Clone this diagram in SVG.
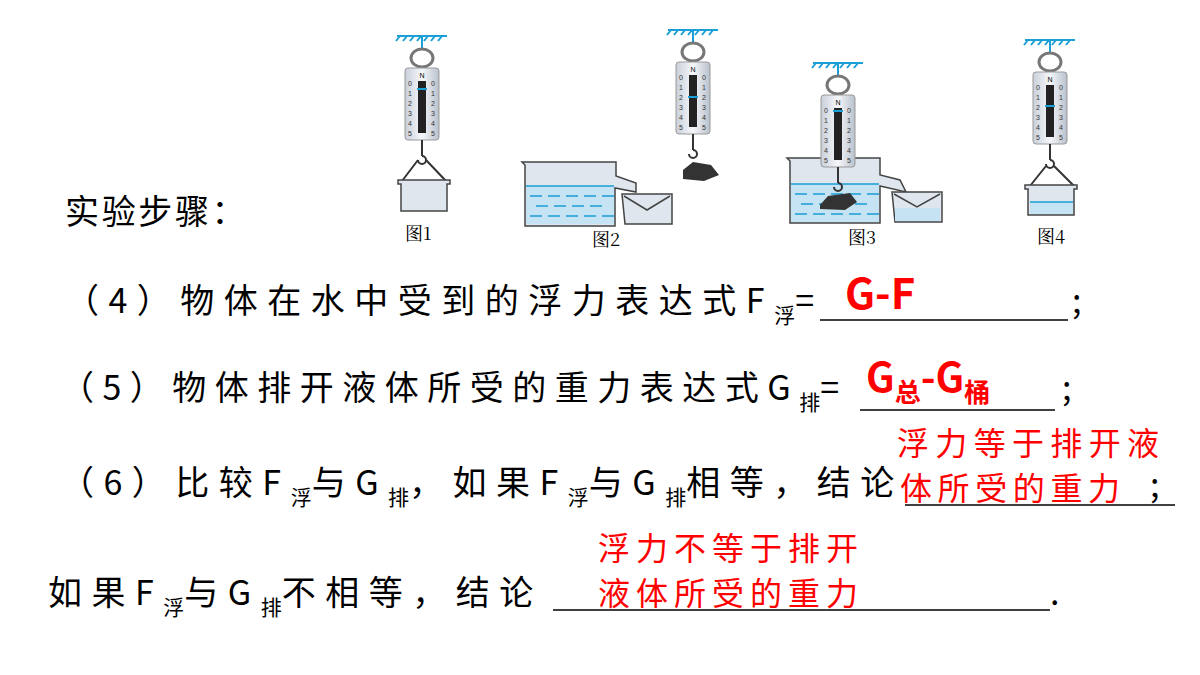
<svg xmlns="http://www.w3.org/2000/svg" width="1200" height="675" viewBox="0 0 1200 675">
<style>
.t{font-family:"Noto Sans CJK SC","Noto Sans",sans-serif;font-size:34px;letter-spacing:9.5px;fill:#000}
.t5{letter-spacing:8.5px}
.s{font-size:21px;letter-spacing:0}
.r{font-family:"Noto Sans CJK SC","Noto Sans",sans-serif;fill:#ff0000}
.ul{stroke:#000;stroke-width:1.5}
.cap{font-family:"Noto Serif CJK SC","Noto Sans CJK SC",serif;font-size:18px;fill:#000}
.ceil{stroke:#1a9fd6;stroke-width:2;fill:none}
.glass{fill:#dfe6ee;stroke:#444;stroke-width:1.5}
.water{fill:#c6e3f3}
.wl{stroke:#1a9fd6;stroke-width:1.5}
</style>
<defs>
<linearGradient id="g" x1="0" x2="1"><stop offset="0" stop-color="#c9d0da"/><stop offset="0.5" stop-color="#f5f7fa"/><stop offset="1" stop-color="#b9c1cc"/></linearGradient>
<g id="scale">
<path class="ceil" d="M-25,0H25 M-22,0l-4,5 M-15,0l-4,5 M-8,0l-4,5 M-1,0l-4,5 M6,0l-4,5 M13,0l-4,5 M20,0l-4,5 M0,0V12"/>
<ellipse cx="0" cy="22" rx="11" ry="9" fill="none" stroke="#777" stroke-width="3"/>
<rect x="-17" y="32" width="34" height="72" rx="3" fill="url(#g)" stroke="#999"/>
<text x="0" y="42" font-size="7" text-anchor="middle" font-family="Liberation Sans,sans-serif">N</text>
<rect x="-4" y="45" width="8" height="52" fill="#222"/>
<g font-size="7" font-family="Liberation Sans,sans-serif" fill="#333">
<text x="-14" y="50">0</text><text x="-14" y="60">1</text><text x="-14" y="70">2</text><text x="-14" y="80">3</text><text x="-14" y="90">4</text><text x="-14" y="100">5</text>
<text x="9" y="50">0</text><text x="9" y="60">1</text><text x="9" y="70">2</text><text x="9" y="80">3</text><text x="9" y="90">4</text><text x="9" y="100">5</text>
</g>
<path d="M0,104V120 M0,120a4,4 0 1 1 -4,4" fill="none" stroke="#333" stroke-width="2"/>
</g>
</defs>

<g id="fig1">
<use href="#scale" x="422" y="36"/>
<rect x="417" y="88" width="10" height="2" fill="#1a9fd6"/>
<path d="M418,160L402,181 M426,160L446,181" stroke="#333" stroke-width="2"/>
<path class="glass" d="M398,180H450V184H447V211H401V184H398Z"/>
<text class="cap" x="405" y="240">图1</text>
</g>

<g id="fig2">
<path class="glass" d="M522,162H616V176L636,183L636,192L615,188V226H525V165Z"/>
<rect class="water" x="526" y="186" width="88" height="38"/>
<path class="wl" d="M526,186H614 M530,196h12m6,0h12m6,0h12m6,0h12m6,0h12 M536,206h12m6,0h12m6,0h12m6,0h12 M530,216h12m6,0h12m6,0h12m6,0h12m6,0h12"/>
<path class="glass" d="M622,194H672V224H625Z"/>
<path d="M624,196L647,210L670,196" fill="none" stroke="#444" stroke-width="1.5"/>
<use href="#scale" x="693" y="30"/>
<rect x="688" y="96" width="10" height="2" fill="#1a9fd6"/>
<path d="M683,170L693,162L711,165L719,175L704,181L683,179Z" fill="#333"/>
<text class="cap" x="592" y="246">图2</text>
</g>

<g id="fig3">
<path class="glass" d="M787,158H880V175L900,180L906,192L880,186V223H790V161Z"/>
<rect class="water" x="791" y="184" width="88" height="38"/>
<path class="wl" d="M791,184H879 M795,194h12m6,0h12m6,0h12m6,0h12m6,0h12 M801,204h12m6,0h12m6,0h12m6,0h12 M795,214h12m6,0h12m6,0h12m6,0h12m6,0h12"/>
<use href="#scale" x="838" y="63"/>
<rect x="833" y="110" width="10" height="2" fill="#1a9fd6"/>
<path d="M820,205L828,196L850,193L857,202L845,210L820,209Z" fill="#333"/>
<path class="glass" d="M892,192H942V222H895Z"/>
<rect class="water" x="895" y="208" width="45" height="13"/>
<path d="M894,194L917,207L940,194" fill="none" stroke="#444" stroke-width="1.5"/>
<text class="cap" x="848" y="244">图3</text>
</g>

<g id="fig4">
<use href="#scale" x="1050" y="40"/>
<rect x="1045" y="105" width="10" height="2" fill="#1a9fd6"/>
<path d="M1046,166L1030,186 M1054,166L1074,186" stroke="#333" stroke-width="2"/>
<path class="glass" d="M1025,185H1077V189H1074V215H1028V189H1025Z"/>
<rect class="water" x="1030" y="202" width="43" height="12"/>
<path class="wl" d="M1030,202H1073"/>
<text class="cap" x="1037" y="243">图4</text>
</g>

<g id="text">
<text class="t" x="65" y="224" textLength="190" lengthAdjust="spacing">实验步骤：</text>

<text class="t" x="65" y="313">（4）物体在水中受到的浮力表达式F<tspan class="s" dy="10">浮</tspan><tspan dy="-10">=</tspan></text>
<line class="ul" x1="820" y1="320" x2="1068" y2="320"/>
<text class="t" x="1072" y="313">;</text>
<text class="r" x="845" y="309" font-size="42" font-weight="bold">G-F</text>

<text class="t t5" x="60" y="400">（5）物体排开液体所受的重力表达式G<tspan class="s" dy="10">排</tspan><tspan dy="-10">=</tspan></text>
<line class="ul" x1="860" y1="410" x2="1055" y2="410"/>
<text class="t" x="1062" y="400">;</text>
<text class="r" x="866" y="392" font-size="40" font-weight="bold">G<tspan font-size="26" dy="10">总</tspan><tspan dy="-10">-G</tspan><tspan font-size="26" dy="10">桶</tspan></text>

<text class="t" x="60" y="495">（6）比较F<tspan class="s" dy="10">浮</tspan><tspan dy="-10">与G</tspan><tspan class="s" dy="10">排</tspan><tspan dy="-10">，如果F</tspan><tspan class="s" dy="10">浮</tspan><tspan dy="-10">与G</tspan><tspan class="s" dy="10">排</tspan><tspan dy="-10">相等，结论</tspan></text>
<line class="ul" x1="905" y1="505" x2="1175" y2="505"/>
<text class="t" x="1150" y="497">;</text>
<text class="r" x="897" y="455" font-size="32" textLength="262" lengthAdjust="spacing">浮力等于排开液</text>
<text class="r" x="900" y="500" font-size="32" textLength="220" lengthAdjust="spacing">体所受的重力</text>

<text class="t" x="48" y="605">如果F<tspan class="s" dy="10">浮</tspan><tspan dy="-10">与G</tspan><tspan class="s" dy="10">排</tspan><tspan dy="-10">不相等，结论</tspan></text>
<line class="ul" x1="553" y1="610" x2="1050" y2="610"/>
<text class="t" x="1050" y="605">.</text>
<text class="r" x="598" y="560" font-size="32" textLength="260" lengthAdjust="spacing">浮力不等于排开</text>
<text class="r" x="598" y="605" font-size="32" textLength="260" lengthAdjust="spacing">液体所受的重力</text>
</g>
</svg>
